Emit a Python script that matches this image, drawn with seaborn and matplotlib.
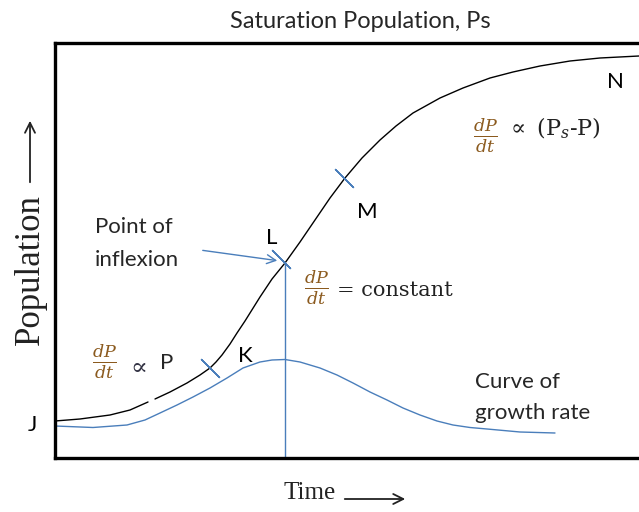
import pandas as pd
import seaborn as sns
import matplotlib.pyplot as plt

# population curve (time, population), two pieces because of the small break near J
pop_time = [0, 5, 11, 15, 18.6,
            20, 23, 26.4, 29, 31, 32.2, 33.4, 35, 36.4, 38, 39.5, 41, 43.4, 46, 49, 52, 55, 58,
            61.4, 65, 68.2, 71.6, 77, 81.6, 87, 91.6, 97, 103, 109, 116.8, 119]
pop_value = [7.4, 7.8, 8.6, 9.6, 11.2,
             11.8, 13.2, 15, 16.6, 18, 19.2, 20.6, 22.8, 25.0, 27.4, 29.8, 32.2, 35.8, 39,
             43.2, 47.6, 52, 56,
             60, 63.6, 66.4, 69, 72, 74, 76, 77.2, 78.4, 79.4, 80, 80.4, 80.5]
pop_seg = [0] * 5 + [1] * (len(pop_time) - 5)

# growth rate curve
rate_time = [0, 7.6, 14.4, 18, 21, 24.4, 27.6, 31, 34.4, 37.6, 41, 43.4, 46, 49, 53,
             56.4, 59.6, 63, 66.4, 69.6, 73, 76.4, 79.6, 83, 86.4, 93, 100]
rate_value = [6.4, 6.1, 6.6, 7.6, 9, 10.6, 12.2, 14, 16, 18, 19.2, 19.6, 19.7, 19.2, 18,
              16.6, 15, 13.2, 11.6, 10, 8.6, 7.4, 6.6, 6.1, 5.8, 5.2, 5.0]

# K, L, M crossing marks on the population curve
mark_time = [31, 45.2, 57.8]
mark_value = [18, 39.8, 56.1]
infl_time, infl_value = 46, 39

pop_df = pd.DataFrame({"t": pop_time, "P": pop_value, "seg": pop_seg})
rate_df = pd.DataFrame({"t": rate_time, "r": rate_value})

sns.set_style("white")
plt.rcParams["font.family"] = ["Lato", "DejaVu Sans"]
plt.rcParams["mathtext.fontset"] = "dejavuserif"

W, H = 639, 512
fig = plt.figure(figsize=(W / 100, H / 100), dpi=100)
ax = fig.add_axes([55 / W, 1 - 458 / H, 595 / W, 415 / H])

blue = "#4a7ebb"
sns.lineplot(data=pop_df, x="t", y="P", units="seg", estimator=None,
             color="black", lw=1.0, ax=ax)
sns.lineplot(data=rate_df, x="t", y="r", color=blue, lw=1.0, ax=ax)
ax.plot(mark_time, mark_value, ls="none", marker=(2, 2, 45), ms=19,
        mec=blue, mew=1.0)
ax.vlines(infl_time, 0, infl_value, color=blue, lw=1.0)

ax.set_xlim(0, 119)
ax.set_ylim(0, 83)
ax.set_xticks([])
ax.set_yticks([])
ax.set_xlabel("")
ax.set_ylabel("")
for s in ["left", "top", "bottom"]:
    ax.spines[s].set_linewidth(2.4)
    ax.spines[s].set_color("black")
ax.spines["right"].set_visible(False)

# labels
lab = dict(fontsize=16, color="black", va="center", ha="center", clip_on=False)
ax.text(-4.6, 6.6, "J", **lab)
ax.text(38, 20.4, "K", **lab)
ax.text(43.4, 44, "L", **lab)
ax.text(62.4, 49.2, "M", **lab)
ax.text(112, 75.2, "N", **lab)
ax.text(8, 46.2, "Point of", fontsize=16, va="center")
ax.text(8, 39.6, "inflexion", fontsize=16, va="center")
ax.annotate("", xy=(45, 39.4), xytext=(29, 41.6),
            arrowprops=dict(arrowstyle="->", color=blue, lw=1.0,
                            mutation_scale=16))
ax.text(84, 15.2, "Curve of", fontsize=16, va="center")
ax.text(84, 9, "growth rate", fontsize=16, va="center")

brown = "#8b5a1e"
ax.text(10, 19.2, r"$\frac{dP}{dt}$", color=brown, fontsize=18,
        ha="center", va="center")
ax.text(16.2, 18.6, r"$\propto$", color="#333344", fontsize=18,
        ha="center", va="center")
ax.text(22.4, 19, "P", fontsize=16, ha="center", va="center")

ax.text(52.4, 34, r"$\frac{dP}{dt}$", color=brown, fontsize=18,
        ha="center", va="center")
ax.text(56.4, 33.6, "= constant", family="DejaVu Serif", fontsize=15,
        va="center", color="#222222")

ax.text(86.2, 64.4, r"$\frac{dP}{dt}$", color=brown, fontsize=18,
        ha="center", va="center")
ax.text(90.2, 66, r"$\propto$ (P$_s$-P)", family="DejaVu Serif", fontsize=16,
        va="center", color="#222222")

# title and axis captions
fig.text(360 / W, 1 - 22 / H, "Saturation Population, Ps", fontsize=17,
         ha="center", va="center")
fig.text(310 / W, 1 - 493 / H, "Time", family="Liberation Serif", fontsize=18,
         ha="center", va="center", color="#222222")
ax.annotate("", xy=(408 / W, 1 - 499 / H), xytext=(342 / W, 1 - 499 / H),
            xycoords="figure fraction", textcoords="figure fraction",
            arrowprops=dict(arrowstyle="->", color="#222222", lw=1.3,
                            mutation_scale=18))
fig.text(30 / W, 1 - 270 / H, "Population", family="Liberation Serif",
         fontsize=25, rotation=90, ha="center", va="center", color="#222222")
ax.annotate("", xy=(30 / W, 1 - 118 / H), xytext=(30 / W, 1 - 185 / H),
            xycoords="figure fraction", textcoords="figure fraction",
            arrowprops=dict(arrowstyle="->", color="#222222", lw=1.3,
                            mutation_scale=18))

fig.savefig("out.png", dpi=100)
